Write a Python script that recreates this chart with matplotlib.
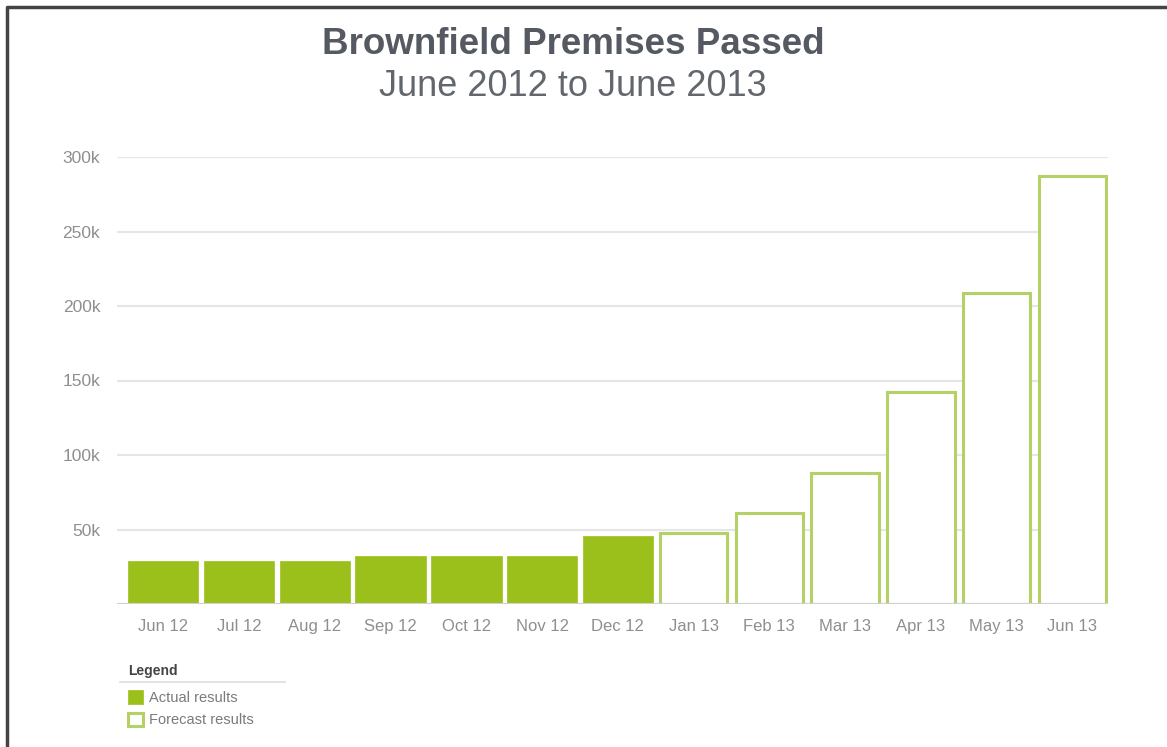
import matplotlib
matplotlib.use("Agg")
import matplotlib.pyplot as plt
import matplotlib.ticker as mticker
from matplotlib.lines import Line2D

# ── colours ────
GREEN      = "#9cc01b"
GREEN_EDGE = "#b4d165"
GRID       = "#e6e6e6"
BASE       = "#d0d0d0"
TITLE      = "#555a62"
SUBTITLE   = "#62666d"
TICK       = "#8f8f8f"

# ── data ────
months   = ["Jun 12", "Jul 12", "Aug 12", "Sep 12", "Oct 12", "Nov 12", "Dec 12",
            "Jan 13", "Feb 13", "Mar 13", "Apr 13", "May 13", "Jun 13"]
actual   = [29000, 29000, 29000, 32000, 32000, 32000, 45600]
forecast = [47500, 61000, 88000, 142000, 209000, 287000]
y_ticks  = [50000, 100000, 150000, 200000, 250000, 300000]

plt.rcParams["font.family"] = ["Liberation Sans", "DejaVu Sans"]

fig = plt.figure(figsize=(11.67, 7.47), dpi=100)
fig.patch.set_facecolor("white")
ax = fig.add_axes([117 / 1167, 1 - 604 / 747, 991 / 1167, 447 / 747])

x_act = list(range(len(actual)))
x_fc = list(range(len(actual), len(months)))

act_bars = ax.bar(x_act, actual, width=0.93, color=GREEN, edgecolor=GREEN,
                  linewidth=0.5, zorder=3, label="Actual results")
fc_bars = ax.bar(x_fc, forecast, width=0.89, color="white", edgecolor=GREEN_EDGE,
                 linewidth=2.2, zorder=3, label="Forecast results")

ax.set_xlim(-0.61, len(months) - 1 + 0.47)
ax.set_ylim(0, 300000)
ax.set_xticks(range(len(months)))
ax.set_xticklabels(months)
ax.set_yticks(y_ticks)
ax.yaxis.set_major_formatter(mticker.FuncFormatter(lambda v, _: f"{int(v / 1000)}k"))

ax.tick_params(axis="both", length=0, colors=TICK)
ax.tick_params(axis="x", pad=11, labelsize=12)
ax.tick_params(axis="y", pad=12, labelsize=12.5)
for spine in ax.spines.values():
    spine.set_visible(False)
ax.axhline(0, color=BASE, linewidth=1.5, zorder=4)
ax.grid(axis="y", color=GRID, linewidth=1.5)
ax.set_axisbelow(True)

# ── titles ────
fig.text(0.491, 1 - 44 / 747, "Brownfield Premises Passed", ha="center", va="center",
         fontsize=26.5, fontweight="bold", color=TITLE)
fig.text(0.491, 1 - 87 / 747, "June 2012 to June 2013", ha="center", va="center",
         fontsize=26, color=SUBTITLE)

# ── legend ────
fig.text(128 / 1167, 1 - 671 / 747, "Legend", ha="left", va="center",
         fontsize=10, fontweight="bold", color="#444444")
fig.add_artist(Line2D([120 / 1167, 285 / 1167], [1 - 682 / 747] * 2,
                      color="#dddddd", linewidth=1.2, transform=fig.transFigure))
leg = fig.legend(handles=[act_bars, fc_bars], loc="upper left",
                 bbox_to_anchor=(128 / 1167, 1 - 690 / 747), frameon=False,
                 fontsize=10.5, borderpad=0, borderaxespad=0,
                 handlelength=1.05, handleheight=1.05, handletextpad=0.4,
                 labelspacing=0.55, labelcolor="#7a7a7a")

# ── frame (top and left edges) ────
fig.add_artist(Line2D([7 / 1167, 7 / 1167, 1.0], [0, 1 - 7 / 747, 1 - 7 / 747],
                      color="#444444", linewidth=2.5, transform=fig.transFigure))

fig.savefig("out.png", dpi=100, facecolor="white")
